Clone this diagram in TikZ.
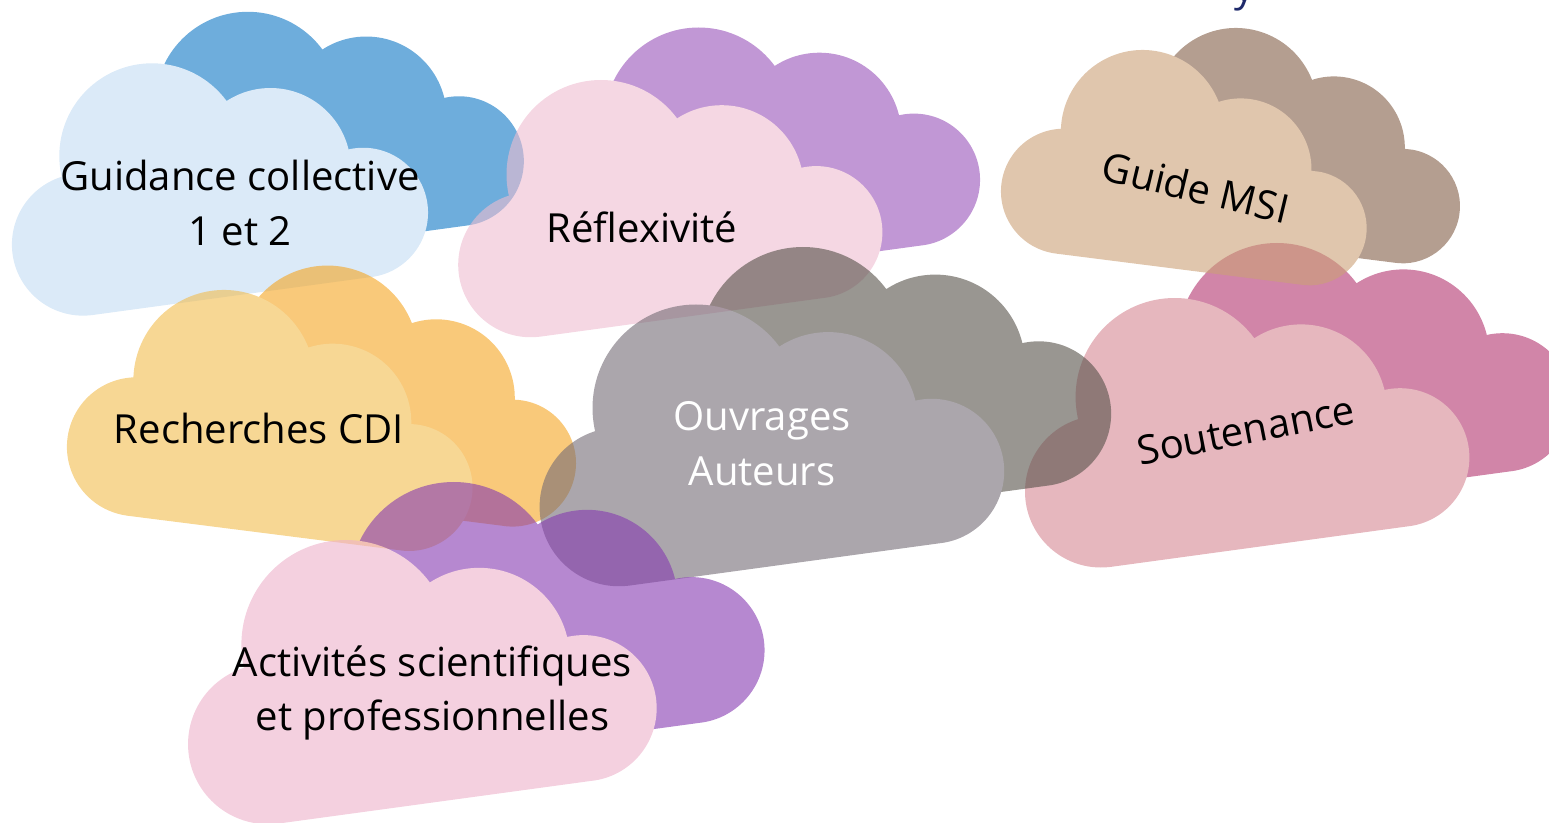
\documentclass[tikz,border=0pt]{standalone}
\usepackage{fontspec}
\setmainfont{Open Sans}
\usetikzlibrary{positioning}

\definecolor{guidback}{RGB}{13,118,197}
\definecolor{guidfront}{RGB}{195,220,243}
\definecolor{reflback}{RGB}{152,82,185}
\definecolor{reflfront}{RGB}{238,188,208}
\definecolor{msiback}{RGB}{130,93,70}
\definecolor{msifront}{RGB}{203,160,118}
\definecolor{rechback}{RGB}{245,165,33}
\definecolor{rechfront}{RGB}{242,188,77}
\definecolor{ouvback}{RGB}{85,80,72}
\definecolor{ouvfront}{RGB}{115,107,117}
\definecolor{soutback}{RGB}{178,52,110}
\definecolor{soutfront}{RGB}{213,135,147}
\definecolor{actback}{RGB}{133,57,177}
\definecolor{actfront}{RGB}{237,177,202}
\definecolor{titlenavy}{RGB}{31,42,107}

% one cloud, big bump centred on the origin
\newcommand{\cloudshape}{%
  (0,0) circle (0.90)
  (-0.67,-0.86) circle (0.69)
  (1.15,-0.12) circle (0.78)
  (2.05,-0.55) circle (0.63)
  (-0.577,-1.544) -- (2.135,-1.174) -- (2.05,-0.55) -- (1.15,-0.12) -- (0,0) -- (-0.67,-0.86) -- cycle}

\tikzset{
  pair/.style={transparency group, opacity=0.6},
  behind/.style={shift={(0.93,0.50)}},
  lbl/.style={font=\fontsize{11.4}{15.6}\selectfont, align=center, inner sep=0pt},
}

\begin{document}
\begin{tikzpicture}
\useasboundingbox (0,0) rectangle (15.49,-8.23);
\clip (0,0) rectangle (15.49,-8.23);

\node[lbl, text=titlenavy, anchor=base] (topword) at (12.45,-0.015) {y};

% clouds
\begin{scope}[pair, shift={(1.52,-1.56)}, scale=1.03]
  \fill[guidback, behind] \cloudshape;
  \fill[guidfront] \cloudshape;
\end{scope}
\begin{scope}[pair, shift={(6.01,-1.745)}, scale=1.05]
  \fill[reflback, behind] \cloudshape;
  \fill[reflfront] \cloudshape;
\end{scope}
\begin{scope}[pair, shift={(2.24,-3.806)}, rotate=-15, scale=1.007]
  \fill[rechback, behind] \cloudshape;
  \fill[rechfront] \cloudshape;
\end{scope}
\begin{scope}[pair, shift={(11.746,-3.97)}, scale=1.10]
  \fill[soutback, behind] \cloudshape;
  \fill[soutfront] \cloudshape;
\end{scope}
\begin{scope}[pair, shift={(11.426,-1.317)}, rotate=-15, scale=0.908]
  \fill[msiback, behind] \cloudshape;
  \fill[msifront] \cloudshape;
\end{scope}
\begin{scope}[pair, shift={(6.96,-4.08)}, scale=1.15]
  \fill[ouvback, behind] \cloudshape;
  \fill[ouvfront] \cloudshape;
\end{scope}
\begin{scope}[pair, shift={(3.458,-6.444)}, scale=1.16]
  \fill[actback, behind] \cloudshape;
  \fill[actfront] \cloudshape;
\end{scope}

% labels
\node[lbl] (guidance) at (2.40,-2.03) {Guidance collective\\1 et 2};
\node[lbl] (reflex) at (6.42,-2.27) {Réflexivité};
\node[lbl, rotate=-13.5] (guide) at (11.96,-1.87) {Guide MSI};
\node[lbl] (recherches) at (2.59,-4.28) {Recherches CDI};
\node[lbl, text=white] (ouvrages) at (7.62,-4.44) {Ouvrages\\Auteurs};
\node[lbl, rotate=11] (soutenance) at (12.46,-4.30) {Soutenance};
\node[lbl] (activites) at (4.325,-6.93) {Activités scientifiques\\et professionnelles};
\end{tikzpicture}
\end{document}
